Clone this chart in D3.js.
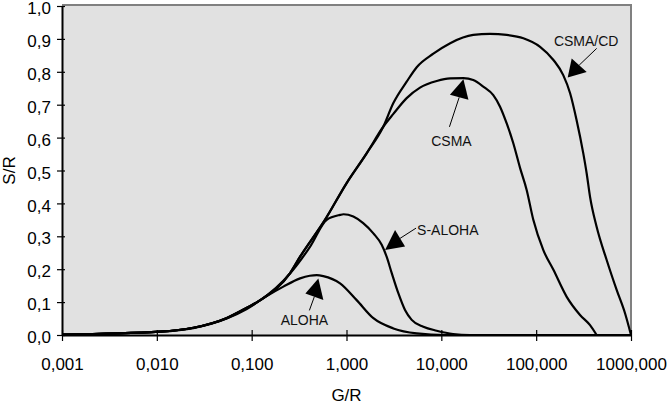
<!DOCTYPE html>
<html><head><meta charset="utf-8">
<script src="https://cdn.jsdelivr.net/npm/d3@7"></script>
<style>
html,body{margin:0;padding:0;background:#fff;}
svg{display:block;font-family:"Liberation Sans",Arial,sans-serif;}
</style></head>
<body><svg id="c" width="668" height="406"></svg>
<script>
// ---- data ----
const xTickValues = [0.001, 0.01, 0.1, 1, 10, 100, 1000];
const xTickLabels = ["0,001","0,010","0,100","1,000","10,000","100,000","1000,000"];
const yTickValues = [0,0.1,0.2,0.3,0.4,0.5,0.6,0.7,0.8,0.9,1.0];
const yTickLabels = ["0,0","0,1","0,2","0,3","0,4","0,5","0,6","0,7","0,8","0,9","1,0"];

const alohaG = [0.001,0.0108,0.0243,0.0546,0.0888,0.144,0.216,0.324,0.41,0.486,0.569,0.855,1.28,1.92,3.12,5.5,11,1000];
const alohaS = [0.001,0.010,0.021,0.050,0.079,0.118,0.147,0.172,0.180,0.182,0.179,0.157,0.106,0.051,0.020,0.005,0.0,0.0];

const saloG = [0.001,0.0108,0.0243,0.0546,0.0888,0.122,0.254,0.412,0.618,0.855,0.93,1.18,1.50,1.92,2.35,2.65,3.0,3.52,4.14,4.87,6.46,8.94,13.3,20,1000];
const saloS = [0.001,0.010,0.022,0.051,0.082,0.105,0.187,0.268,0.350,0.365,0.367,0.360,0.340,0.309,0.274,0.238,0.188,0.127,0.076,0.046,0.025,0.013,0.003,0.0,0.0];

const csmaG = [0.001,0.0108,0.0243,0.0546,0.0888,0.122,0.254,0.324,0.593,1.0,1.63,2.44,3.12,4.31,5.96,8.94,12.4,17.1,21.7,27.7,35.3,41.6,48.9,57.4,67.6,79.4,93.3,119,152,210,290,370,434];
const csmaS = [0.001,0.010,0.022,0.052,0.083,0.105,0.188,0.238,0.350,0.461,0.552,0.633,0.672,0.720,0.752,0.772,0.780,0.781,0.775,0.755,0.729,0.694,0.643,0.583,0.508,0.441,0.350,0.258,0.198,0.116,0.061,0.030,0.0];

const csmacdG = [0.001,0.0108,0.0243,0.0546,0.0888,0.122,0.254,0.324,0.593,1.0,1.63,2.44,3.12,4.31,5.5,8.24,12.4,21.7,32.6,48.9,73.3,110,152,193,228,267,314,341,370,434,554,706,865,1000];
const csmacdS = [0.001,0.010,0.022,0.052,0.083,0.105,0.188,0.238,0.350,0.461,0.552,0.633,0.705,0.770,0.814,0.855,0.887,0.912,0.915,0.912,0.902,0.876,0.836,0.790,0.735,0.653,0.552,0.491,0.420,0.329,0.228,0.137,0.066,0.0];

const seriesNames = ["ALOHA","S-ALOHA","CSMA","CSMA/CD"];
// annotation tips (data coords) for each label
const annotG = [0.505, 2.55, 17.1, 215];
const annotS = [0.172, 0.258, 0.777, 0.783];

// ---- layout ----
const svg = d3.select("#c");
const L = 62, R = 631, T = 6, B = 335;
const x = d3.scaleLog().domain([0.001, 1000]).range([L, R]);
const y = d3.scaleLinear().domain([0, 1]).range([B, T]);

// plot background
svg.append("rect").attr("x", L).attr("y", T - 1).attr("width", R - L).attr("height", B - T + 1)
  .attr("fill", "#e1e1e1");
// gray border top & right
svg.append("path").attr("d", `M${L},${T-1}H${R}V${B}`).attr("fill","none")
  .attr("stroke","#808080").attr("stroke-width",2);

// series
const series = [[alohaG, alohaS],[saloG, saloS],[csmaG, csmaS],[csmacdG, csmacdS]];
const line = d3.line().x(d => x(d[0])).y(d => y(d[1])).curve(d3.curveMonotoneX);
series.forEach(([g, s]) => {
  const pts = g.map((v, i) => [v, s[i]]);
  svg.append("path").datum(pts).attr("d", line).attr("fill", "none")
    .attr("stroke", "#000").attr("stroke-width", 2.2).attr("stroke-linejoin","round");
});

// axes
const fmtX = d => xTickLabels[xTickValues.indexOf(d)];
const xAxis = d3.axisBottom(x).tickValues(xTickValues).tickFormat(fmtX).tickSizeOuter(0).tickSizeInner(6).tickPadding(0);
const gx = svg.append("g").attr("transform", `translate(0,${B})`).call(xAxis);
gx.select(".domain").attr("stroke","#000").attr("stroke-width",2);
gx.selectAll(".tick line").attr("y1",-5).attr("y2",6).attr("stroke","#000").attr("stroke-width",1.2);
gx.selectAll(".tick text").attr("font-size",17).attr("font-family","Liberation Sans, Arial, sans-serif")
  .attr("fill","#000").attr("y",35).attr("dy",0);

const fmtY = d => yTickLabels[yTickValues.findIndex(v => Math.abs(v - d) < 1e-9)];
const yAxis = d3.axisLeft(y).tickValues(yTickValues).tickFormat(fmtY).tickSizeOuter(0).tickSizeInner(5).tickPadding(0);
const gy = svg.append("g").attr("transform", `translate(${L},0)`).call(yAxis);
gy.select(".domain").attr("stroke","#000").attr("stroke-width",2);
gy.selectAll(".tick line").attr("x1",3).attr("x2",-5).attr("stroke","#000").attr("stroke-width",1.2);
gy.selectAll(".tick text").attr("font-size",17).attr("font-family","Liberation Sans, Arial, sans-serif")
  .attr("fill","#000").attr("x",-11).attr("dy","0.45em");

// axis titles
svg.append("text").attr("x",(L+R)/2).attr("y",401).attr("text-anchor","middle")
  .attr("font-size",17).text("G/R");
svg.append("text").attr("transform",`translate(15,${(T+B)/2}) rotate(-90)`).attr("text-anchor","middle")
  .attr("font-size",17).text("S/R");

// annotations: [base1, base2, lineEnd, textPos, anchor] offsets in px relative to the tip
const annotGeom = [
  {b1:[-13,15], b2:[5,21.5], le:[-9,32], tp:[-14,47], anchor:"middle"},
  {b1:[10,-20], b2:[20,-3.5], le:[31,-22], tp:[32,-15], anchor:"start"},
  {b1:[-13.5,15.5], b2:[5,20.5], le:[-14,47.5], tp:[-12,67], anchor:"middle"},
  {b1:[4,-19], b2:[19,-5.5], le:[29,-29], tp:[18.5,-31], anchor:"middle"}
];
seriesNames.forEach((name, i) => {
  const tx = x(annotG[i]), ty = y(annotS[i]);
  const g = annotGeom[i];
  const bm = [(g.b1[0]+g.b2[0])/2, (g.b1[1]+g.b2[1])/2];
  svg.append("line").attr("x1", tx+bm[0]).attr("y1", ty+bm[1]).attr("x2", tx+g.le[0]).attr("y2", ty+g.le[1])
    .attr("stroke","#000").attr("stroke-width",1);
  svg.append("path").attr("d", `M${tx},${ty}L${tx+g.b1[0]},${ty+g.b1[1]}L${tx+g.b2[0]},${ty+g.b2[1]}Z`)
    .attr("fill","#000");
  svg.append("text").attr("x", tx+g.tp[0]).attr("y", ty+g.tp[1]).attr("text-anchor", g.anchor)
    .attr("font-size",14).attr("fill","#111").text(name);
});
</script></body></html>
